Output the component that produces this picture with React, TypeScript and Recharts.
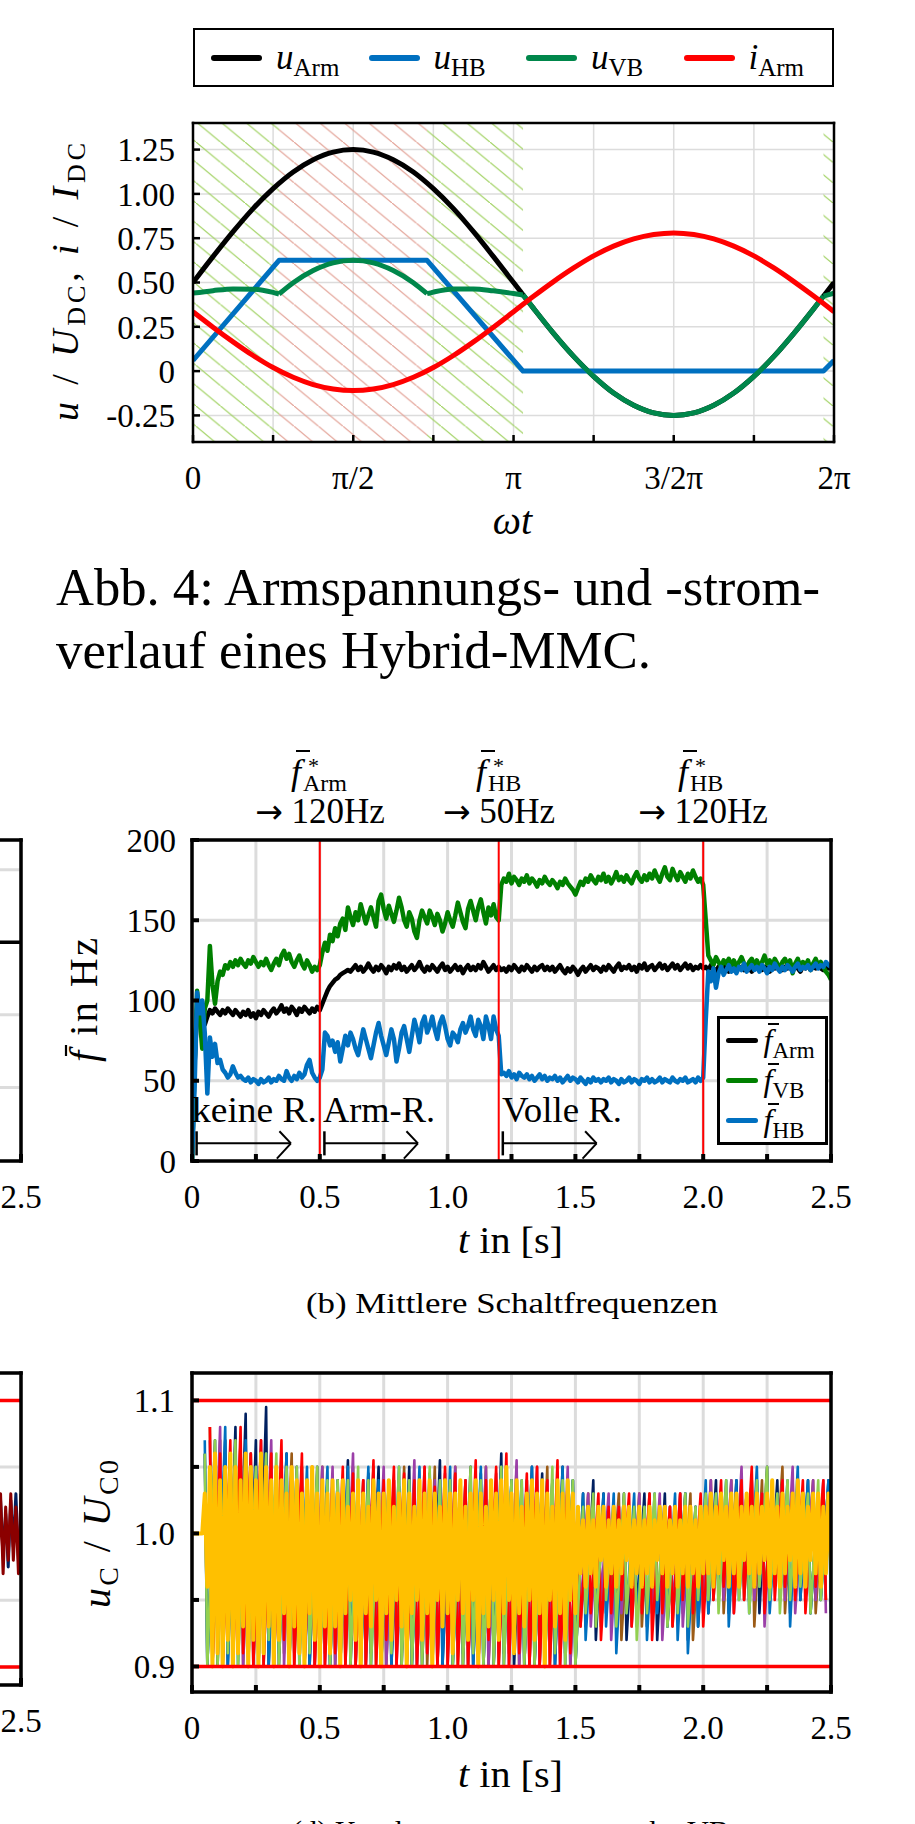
import React from 'react'
import { CartesianGrid, Legend, Line, LineChart, ReferenceArea, ReferenceLine, XAxis, YAxis } from 'recharts'

const FONT = '"Liberation Serif", "Times New Roman", serif'

// ---------- Abb. 4: arm voltages / current over one period ----------
const wt = [0, 0.196, 0.393, 0.589, 0.785, 0.982, 1.178, 1.374, 1.571, 1.767, 1.963, 2.16, 2.356, 2.553, 2.749, 2.945, 3.142,
  3.338, 3.534, 3.731, 3.927, 4.123, 4.32, 4.516, 4.712, 4.909, 5.105, 5.301, 5.498, 5.694, 5.89, 6.087, 6.283]
const uArm = [0.5, 0.646, 0.787, 0.917, 1.03, 1.124, 1.193, 1.236, 1.25, 1.236, 1.193, 1.124, 1.03, 0.917, 0.787, 0.646, 0.5,
  0.354, 0.213, 0.083, -0.03, -0.124, -0.193, -0.236, -0.25, -0.236, -0.193, -0.124, -0.03, 0.083, 0.213, 0.354, 0.5]
const iArm = [0.335, 0.248, 0.165, 0.088, 0.02, -0.035, -0.076, -0.101, -0.11, -0.101, -0.076, -0.035, 0.02, 0.088, 0.165, 0.248, 0.335,
  0.422, 0.505, 0.582, 0.65, 0.705, 0.746, 0.771, 0.78, 0.771, 0.746, 0.705, 0.65, 0.582, 0.505, 0.422, 0.335]
const hbWt = [0, 0.843, 2.294, 3.235, 6.18, 6.283]
const uHB = [0.06, 0.625, 0.625, 0, 0, 0.06]
const vbWt = [0, 0.196, 0.393, 0.589, 0.785, 0.843, 0.982, 1.178, 1.374, 1.571, 1.767, 1.963, 2.16, 2.294, 2.356, 2.553, 2.749,
  2.945, 3.142, 3.235, 3.338, 3.534, 3.731, 3.927, 4.123, 4.32, 4.516, 4.712, 4.909, 5.105, 5.301, 5.498, 5.694, 5.89, 6.087, 6.18, 6.283]
const uVB = [0.44, 0.454, 0.464, 0.462, 0.444, 0.435, 0.499, 0.568, 0.611, 0.625, 0.611, 0.568, 0.499, 0.437, 0.446, 0.464, 0.464,
  0.453, 0.438, 0.43, 0.354, 0.213, 0.083, -0.03, -0.124, -0.193, -0.236, -0.25, -0.236, -0.193, -0.124, -0.03, 0.083, 0.213, 0.354, 0.423, 0.44]
const vbKinks = [0, 5, 13, 19, 35, 36]
const greenZones = [[0, 0.843], [2.294, 3.235], [6.18, 6.283]]
const redZones = [[0.843, 2.294]]
const wtTicks = [0, 0.785, 1.571, 2.356, 3.142, 3.927, 4.712, 5.498, 6.283]
const wtLabels = ['0', '', 'π/2', '', 'π', '', '3/2π', '', '2π']
const uTicks = [-0.25, 0, 0.25, 0.5, 0.75, 1, 1.25]

// ---------- (b) mean switching frequencies, 10 ms steps ----------
const fArm = [
  0, 60, 95, 88, 92, 85, 90, 94, 92, 95, 93, 91, 94, 92, 95, 93, 91, 94, 92, 90,
  93, 91, 94, 90, 92, 89, 93, 91, 94, 92, 90, 93, 95, 92, 94, 97, 93, 95, 92, 96,
  94, 91, 95, 93, 96, 94, 92, 95, 93, 96, 94, 98, 102, 106, 109, 111, 113, 114, 116, 117,
  118, 119, 118, 120, 122, 119, 121, 118, 120, 123, 120, 118, 121, 119, 122, 120, 117, 121, 119, 122,
  120, 123, 119, 121, 118, 120, 122, 119, 121, 124, 120, 118, 121, 119, 122, 120, 118, 121, 123, 119,
  121, 118, 120, 122, 119, 121, 117, 120, 122, 119, 121, 119, 122, 120, 124, 121, 118, 120, 122, 119,
  121, 119, 120, 118, 121, 119, 122, 120, 118, 121, 119, 122, 120, 118, 121, 119, 121, 122, 119, 121,
  119, 121, 118, 120, 122, 119, 117, 120, 118, 121, 119, 116, 119, 121, 118, 120, 122, 119, 121, 120,
  118, 121, 119, 122, 120, 118, 121, 123, 119, 121, 120, 122, 119, 121, 118, 122, 120, 123, 119, 121,
  122, 119, 121, 123, 120, 122, 119, 121, 123, 120, 122, 119, 121, 123, 120, 122, 119, 121, 120, 122,
  120, 121, 119, 122, 120, 118, 121, 119, 122, 120, 118, 121, 119, 122, 120, 121, 119, 122, 120, 118,
  121, 120, 122, 119, 121, 120, 118, 121, 120, 122, 120, 119, 121, 120, 122, 119, 121, 120, 118, 121,
  120, 122, 119, 121, 120, 122, 120, 119, 121, 120, 121,
]
const fVB = [
  0, 60, 106, 90, 70, 95, 100, 134, 110, 98, 112, 118, 116, 122, 120, 124, 121, 125, 122, 126,
  123, 121, 125, 123, 127, 124, 121, 124, 122, 126, 122, 119, 123, 126, 122, 128, 131, 126, 129, 124,
  121, 125, 128, 123, 120, 125, 122, 118, 121, 119, 122, 130, 136, 131, 141, 137, 145, 140, 148, 151,
  144, 158, 152, 147, 155, 150, 160, 154, 148, 153, 158, 152, 146, 162, 166, 157, 151, 159, 154, 149,
  156, 164, 158, 150, 146, 155, 151, 143, 139, 150, 156, 152, 148, 156, 152, 147, 154, 150, 143, 148,
  155, 150, 146, 153, 161, 155, 149, 145, 157, 162, 156, 150, 158, 163, 155, 148, 158, 153, 160, 152,
  150, 172, 176, 174, 179, 173, 177, 175, 172, 176, 174, 178, 173, 176, 174, 171, 175, 173, 177, 174,
  172, 175, 173, 170, 174, 172, 176, 173, 171, 169, 166, 170, 174, 172, 176, 174, 178, 175, 173, 177,
  175, 179, 174, 177, 173, 176, 180, 175, 177, 174, 178, 175, 173, 177, 180, 176, 174, 178, 175, 179,
  176, 181, 177, 174, 179, 183, 177, 175, 182, 178, 175, 180, 177, 174, 179, 176, 181, 177, 174, 176,
  172, 150, 128, 125, 122, 127, 124, 121, 125, 123, 126, 122, 125, 121, 124, 127, 123, 120, 124, 126,
  122, 125, 121, 124, 128, 123, 125, 121, 126, 123, 120, 124, 126, 122, 125, 117, 123, 126, 121, 124,
  122, 125, 119, 123, 126, 122, 124, 121, 118, 116, 113,
]
const fHB = [
  0, 45, 105, 92, 100, 80, 42, 77, 65, 73, 61, 63, 57, 55, 52, 54, 59, 55, 52, 53,
  51, 50, 52, 49, 51, 50, 48, 51, 49, 50, 52, 49, 51, 50, 53, 51, 50, 56, 52, 50,
  53, 51, 55, 52, 54, 60, 63, 55, 52, 50, 52, 57, 80, 78, 72, 75, 68, 74, 62, 70,
  78, 72, 80, 76, 70, 66, 74, 82, 76, 70, 64, 72, 80, 86, 78, 72, 66, 74, 82, 76,
  62, 70, 80, 84, 76, 68, 78, 88, 82, 74, 86, 90, 80, 84, 90, 82, 76, 86, 90, 84,
  76, 72, 80, 78, 74, 82, 86, 80, 84, 90, 82, 78, 88, 84, 76, 90, 84, 76, 90, 82,
  78, 54, 55, 53, 56, 52, 54, 51, 55, 53, 52, 54, 51, 53, 50, 52, 54, 51, 53, 50,
  52, 51, 53, 50, 52, 49, 51, 53, 50, 52, 51, 49, 52, 50, 48, 51, 49, 52, 50, 51,
  49, 51, 50, 52, 49, 51, 50, 48, 51, 49, 50, 52, 49, 51, 50, 48, 51, 50, 52, 49,
  51, 49, 50, 52, 49, 51, 50, 49, 52, 50, 49, 51, 50, 52, 49, 50, 51, 49, 52, 50,
  52, 88, 118, 112, 120, 108, 117, 121, 116, 119, 122, 118, 120, 117, 121, 119, 123, 118, 120, 122,
  119, 121, 118, 122, 120, 117, 121, 119, 123, 120, 118, 121, 119, 122, 120, 118, 121, 123, 119, 121,
  120, 122, 119, 121, 123, 120, 122, 121, 124, 122, 121,
]
const stepTimes = [0.5, 1.2, 2.0]
const tTicks = [0, 0.25, 0.5, 0.75, 1, 1.25, 1.5, 1.75, 2, 2.25, 2.5]

// ---------- (d) capacitor voltages: peaks / troughs per cycle ----------
const ycHi = [
  1.03, 1.05, 1.06, 1.04, 1.05, 1.06, 1.05, 1.04, 1.06, 1.05, 1.04, 1.06, 1.05, 1.04, 1.05, 1.04, 1.03, 1.05, 1.04, 1.03, 1.04, 1.05, 1.03, 1.04, 1.03,
  1.04, 1.03, 1.04, 1.02, 1.03, 1.04, 1.03, 1.02, 1.04, 1.03, 1.03, 1.04, 1.02, 1.03, 1.04, 1.03, 1.02, 1.04, 1.03, 1.04, 1.03, 1.02, 1.04, 1.03,
  1.03, 1.04, 1.02, 1.03, 1.04, 1.03, 1.02, 1.04, 1.03, 1.04, 1.05, 1.03, 1.04, 1.02, 1.03, 1.04, 1.03, 1.04, 1.03, 1.02, 1.04, 1.03, 1.04, 1.03,
  1.02, 1.01, 1.02, 1.01, 1.02, 1.02, 1.01, 1.02, 1.01, 1.02, 1.02, 1.01, 1.02, 1.01, 1.02, 1.01, 1.02, 1.02, 1.01, 1.02, 1.01, 1.02, 1.02, 1.01, 1.02,
  1.02, 1.03, 1.02, 1.03, 1.02, 1.03, 1.03, 1.02, 1.03, 1.02, 1.03, 1.02, 1.03, 1.04, 1.02, 1.03, 1.02, 1.03, 1.04, 1.03, 1.02, 1.03, 1.03, 1.02, 1.03,
]
const ycLo = [
  0.96, 0.9, 0.91, 0.9, 0.92, 0.9, 0.91, 0.93, 0.9, 0.92, 0.9, 0.91, 0.93, 0.9, 0.92, 0.94, 0.9, 0.93, 0.91, 0.9, 0.94, 0.92, 0.9, 0.93, 0.91,
  0.93, 0.9, 0.94, 0.95, 0.92, 0.9, 0.94, 0.93, 0.95, 0.9, 0.94, 0.92, 0.95, 0.93, 0.9, 0.94, 0.95, 0.92, 0.94, 0.9, 0.95, 0.93, 0.94, 0.91,
  0.95, 0.94, 0.92, 0.95, 0.9, 0.94, 0.93, 0.95, 0.92, 0.94, 0.95, 0.91, 0.94, 0.93, 0.95, 0.92, 0.94, 0.9, 0.95, 0.93, 0.94, 0.92, 0.95, 0.94,
  0.97, 0.96, 0.97, 0.96, 0.98, 0.96, 0.97, 0.96, 0.97, 0.98, 0.96, 0.97, 0.96, 0.97, 0.96, 0.98, 0.97, 0.96, 0.97, 0.96, 0.97, 0.96, 0.97, 0.96, 0.97,
  0.97, 0.96, 0.97, 0.98, 0.96, 0.97, 0.96, 0.98, 0.97, 0.96, 0.97, 0.98, 0.96, 0.97, 0.96, 0.97, 0.98, 0.96, 0.97, 0.96, 0.98, 0.97, 0.96, 0.97, 0.98,
]
const lgHi = [1.06, 1.07, 1.05, 1.07, 1.06, 1.05, 1.06, 1.06, 1.05, 1.05, 1.04, 1.05, 1.04,
  1.04, 1.04, 1.05, 1.04, 1.03, 1.04, 1.05, 1.04, 1.04, 1.05, 1.04, 1.04, 1.03, 1.05, 1.04, 1.04, 1.05, 1.04, 1.04, 1.03, 1.04, 1.05, 1.04, 1.04,
  1.02, 1.03, 1.02, 1.02, 1.03, 1.02, 1.02, 1.03, 1.02, 1.02, 1.03, 1.02,
  1.03, 1.03, 1.04, 1.03, 1.03, 1.04, 1.05, 1.03, 1.04, 1.04, 1.03, 1.04, 1.03]
const lgLo = [0.9, 0.9, 0.91, 0.9, 0.9, 0.9, 0.92, 0.9, 0.9, 0.9, 0.91, 0.9, 0.9, 0.9, 0.9, 0.92, 0.9, 0.9, 0.91, 0.9,
  0.9, 0.9, 0.9, 0.93, 0.9, 0.9, 0.91, 0.9, 0.9, 0.9, 0.92, 0.9, 0.9, 0.9, 0.91, 0.9, 0.9,
  0.94, 0.93, 0.95, 0.93, 0.94, 0.92, 0.94, 0.95, 0.93, 0.94, 0.93, 0.95,
  0.95, 0.94, 0.96, 0.95, 0.94, 0.96, 0.95, 0.94, 0.95, 0.96, 0.94, 0.95, 0.96]
const rdHi = [1.08, 1.06, 1.07, 1.08, 1.06, 1.07, 1.06, 1.07, 1.05, 1.06, 1.05, 1.04,
  1.04, 1.05, 1.045, 1.04, 1.055, 1.04, 1.05, 1.045, 1.04, 1.05, 1.035, 1.05, 1.045, 1.04, 1.055, 1.04, 1.05, 1.06, 1.04, 1.045, 1.05, 1.04, 1.055, 1.04,
  1.02, 1.02, 1.03, 1.02, 1.02, 1.03, 1.02, 1.03, 1.02, 1.02, 1.03, 1.02, 1.03,
  1.03, 1.04, 1.03, 1.04, 1.05, 1.03, 1.04, 1.04, 1.03, 1.04, 1.03, 1.04]
const rdLo = [0.9, 0.9, 0.9, 0.91, 0.9, 0.9, 0.9, 0.92, 0.9, 0.9, 0.9, 0.9, 0.91, 0.9, 0.9, 0.9, 0.9, 0.92, 0.9, 0.9,
  0.9, 0.91, 0.9, 0.9, 0.9, 0.9, 0.9, 0.92, 0.9, 0.9, 0.91, 0.9, 0.9, 0.9, 0.9, 0.91,
  0.93, 0.94, 0.92, 0.94, 0.95, 0.93, 0.94, 0.92, 0.94, 0.93, 0.95, 0.94, 0.93,
  0.95, 0.96, 0.94, 0.95, 0.96, 0.94, 0.95, 0.96, 0.95, 0.94, 0.96, 0.95]
const blHi = [1.07, 1.06, 1.08, 1.06, 1.07, 1.05, 1.06, 1.05, 1.06, 1.04, 1.05, 1.04, 1.05,
  1.04, 1.05, 1.04, 1.05, 1.04, 1.04, 1.05, 1.04, 1.05, 1.04, 1.04, 1.05, 1.04, 1.04, 1.05, 1.04, 1.05, 1.04, 1.04, 1.05, 1.04, 1.04, 1.05, 1.04,
  1.03, 1.02, 1.03, 1.03, 1.02, 1.03, 1.02, 1.03, 1.02, 1.03, 1.03, 1.02,
  1.04, 1.03, 1.04, 1.04, 1.03, 1.05, 1.04, 1.03, 1.04, 1.05, 1.04, 1.03, 1.04]
const blLo = [0.9, 0.91, 0.9, 0.9, 0.92, 0.9, 0.9, 0.91, 0.9, 0.9, 0.9, 0.92, 0.9, 0.9, 0.91, 0.9, 0.9, 0.9, 0.9, 0.91,
  0.9, 0.92, 0.9, 0.9, 0.9, 0.91, 0.9, 0.9, 0.9, 0.9, 0.92, 0.9, 0.9, 0.91, 0.9, 0.9, 0.9,
  0.92, 0.94, 0.93, 0.91, 0.94, 0.93, 0.92, 0.94, 0.93, 0.92, 0.91, 0.93,
  0.94, 0.95, 0.93, 0.95, 0.94, 0.96, 0.94, 0.95, 0.93, 0.95, 0.94, 0.95, 0.94]
const puHi = [1.07, 1.08, 1.06, 1.07, 1.06, 1.07, 1.07, 1.06, 1.05, 1.05, 1.04, 1.05,
  1.05, 1.04, 1.06, 1.04, 1.045, 1.05, 1.04, 1.035, 1.055, 1.05, 1.04, 1.045, 1.05, 1.04, 1.035, 1.05, 1.045, 1.04, 1.055, 1.04, 1.05, 1.04, 1.045, 1.05,
  1.02, 1.03, 1.02, 1.03, 1.02, 1.02, 1.03, 1.02, 1.03, 1.02, 1.03, 1.02, 1.02,
  1.04, 1.03, 1.04, 1.05, 1.04, 1.03, 1.04, 1.04, 1.05, 1.03, 1.04, 1.04]
const puLo = [0.9, 0.91, 0.9, 0.9, 0.9, 0.92, 0.9, 0.9, 0.91, 0.9, 0.9, 0.9, 0.9, 0.91, 0.9, 0.9, 0.92, 0.9, 0.9, 0.9,
  0.9, 0.91, 0.9, 0.9, 0.92, 0.9, 0.9, 0.9, 0.91, 0.9, 0.9, 0.9, 0.9, 0.92, 0.9, 0.9,
  0.94, 0.93, 0.95, 0.92, 0.94, 0.93, 0.95, 0.94, 0.92, 0.94, 0.93, 0.95, 0.94,
  0.96, 0.95, 0.94, 0.96, 0.95, 0.93, 0.96, 0.95, 0.94, 0.96, 0.95, 0.94]
const nvHi = [1.06, 1.07, 1.07, 1.08, 1.09, 1.07, 1.095, 1.05, 1.06, 1.05, 1.04, 1.05, 1.04,
  1.04, 1.055, 1.04, 1.045, 1.05, 1.04, 1.035, 1.05, 1.04, 1.045, 1.055, 1.04, 1.04, 1.05, 1.045, 1.04, 1.06, 1.04, 1.035, 1.05, 1.045, 1.04, 1.05, 1.04,
  1.03, 1.04, 1.03, 1.02, 1.03, 1.02, 1.03, 1.02, 1.03, 1.02, 1.03, 1.02,
  1.03, 1.04, 1.03, 1.04, 1.03, 1.04, 1.05, 1.04, 1.03, 1.04, 1.04, 1.03, 1.04]
const nvLo = [0.9, 0.9, 0.9, 0.91, 0.9, 0.9, 0.9, 0.9, 0.9, 0.91, 0.9, 0.9, 0.9, 0.9, 0.9, 0.9, 0.91, 0.9, 0.9, 0.9,
  0.9, 0.9, 0.91, 0.9, 0.9, 0.9, 0.9, 0.9, 0.9, 0.91, 0.9, 0.9, 0.9, 0.9, 0.9, 0.91, 0.9,
  0.93, 0.92, 0.94, 0.93, 0.92, 0.94, 0.93, 0.92, 0.93, 0.94, 0.92, 0.93,
  0.94, 0.95, 0.94, 0.96, 0.95, 0.94, 0.95, 0.96, 0.94, 0.95, 0.94, 0.95, 0.96]
const brHi = [1.08, 1.07, 1.06, 1.07, 1.06, 1.06, 1.06, 1.05, 1.06, 1.05, 1.04, 1.05,
  1.04, 1.04, 1.05, 1.04, 1.05, 1.04, 1.04, 1.05, 1.04, 1.04, 1.05, 1.04, 1.05, 1.04, 1.04, 1.05, 1.04, 1.04, 1.05, 1.04, 1.04, 1.05, 1.04, 1.04,
  1.02, 1.03, 1.02, 1.02, 1.03, 1.02, 1.03, 1.03, 1.02, 1.02, 1.03, 1.03, 1.02,
  1.04, 1.03, 1.04, 1.03, 1.04, 1.04, 1.03, 1.05, 1.04, 1.03, 1.04, 1.03]
const brLo = [0.9, 0.9, 0.91, 0.9, 0.9, 0.9, 0.9, 0.91, 0.9, 0.9, 0.9, 0.91, 0.9, 0.9, 0.9, 0.9, 0.9, 0.9, 0.91, 0.9,
  0.9, 0.9, 0.9, 0.91, 0.9, 0.9, 0.9, 0.9, 0.9, 0.91, 0.9, 0.9, 0.9, 0.9, 0.91, 0.9,
  0.93, 0.94, 0.93, 0.95, 0.92, 0.94, 0.93, 0.94, 0.95, 0.93, 0.94, 0.92, 0.94,
  0.95, 0.94, 0.96, 0.95, 0.93, 0.95, 0.96, 0.94, 0.95, 0.96, 0.94, 0.95]

// neighbouring panels, only their right edge is on the page
const panelAT = [2.3, 2.5]
const panelAY = [2, 2]
const panelCT = [2.4, 2.41, 2.42, 2.43, 2.44, 2.45, 2.46, 2.47, 2.48, 2.49, 2.5]
const panelCMaroon = [1.02, 0.98, 1.03, 0.97, 1.02, 0.98, 1.03, 0.98, 1.02, 0.97, 1.03]
const panelCNavy = [1.01, 0.99, 1.025, 0.985, 1.015, 0.975, 1.025, 0.99, 1.03, 0.98, 1.0]

const pts = (xs: number[], ys: number[]) => xs.map((x, i) => ({ x, y: ys[i] }))

function zigzag(t0: number, period: number, hi: number[], lo: number[]) {
  const out: { x: number; y: number }[] = []
  hi.forEach((h, i) => {
    const t = t0 + i * period
    out.push({ x: +t.toFixed(3), y: h })
    out.push({ x: +(t + 0.01).toFixed(3), y: lo[i] })
  })
  return out
}

const C_ARM = '#000000'
const C_HB = '#0070c0'
const C_VB = '#00874b'
const C_I = '#ff0000'

const legend1 = [
  { sym: 'u', sub: 'Arm', color: C_ARM },
  { sym: 'u', sub: 'HB', color: C_HB },
  { sym: 'u', sub: 'VB', color: C_VB },
  { sym: 'i', sub: 'Arm', color: C_I },
]
const legend2 = [
  { sub: 'Arm', color: '#000000' },
  { sub: 'VB', color: '#008000' },
  { sub: 'HB', color: '#0070c0' },
]

const capSeries = [
  { key: 'nv', color: '#002060', t0: 0.05, hi: nvHi, lo: nvLo },
  { key: 'br', color: '#9c5b16', t0: 0.07, hi: brHi, lo: brLo },
  { key: 'pu', color: '#9b3fa8', t0: 0.07, hi: puHi, lo: puLo },
  { key: 'bl', color: '#0070c0', t0: 0.05, hi: blHi, lo: blLo },
  { key: 'rd', color: '#ff0000', t0: 0.07, hi: rdHi, lo: rdLo },
  { key: 'lg', color: '#92d050', t0: 0.05, hi: lgHi, lo: lgLo },
]

const tFmt = (v: number) => {
  const r = Math.round(v * 100)
  if (r % 50 !== 0) return ''
  return r === 0 ? '0' : v.toFixed(1)
}

type FrameOpts = {
  xDomain: number[]
  xTicks: number[]
  xFmt: (v: number) => string
  yDomain: number[]
  yTicks: number[]
  yFmt: (v: number) => string
  lw: number
  tw: number
  yGap: number
}

function frame(o: FrameOpts) {
  const axisLine = { stroke: '#000', strokeWidth: o.lw, strokeLinecap: 'square' }
  const tickLine = { stroke: '#000', strokeWidth: o.tw }
  const tick = { fill: '#000', fontSize: 33, fontFamily: FONT }
  return [
    <XAxis key="xb" type="number" dataKey="x" domain={o.xDomain} ticks={o.xTicks} tickFormatter={o.xFmt} interval={0}
      allowDataOverflow height={1} tickSize={-7} tickMargin={31} axisLine={axisLine} tickLine={tickLine} tick={tick} />,
    <XAxis key="xt" xAxisId="top" orientation="top" type="number" dataKey="x" domain={o.xDomain} ticks={o.xTicks} interval={0}
      allowDataOverflow height={1} tickSize={-7} axisLine={axisLine} tickLine={tickLine} tick={false} />,
    <YAxis key="yl" type="number" domain={o.yDomain} ticks={o.yTicks} tickFormatter={o.yFmt} interval={0}
      allowDataOverflow width={1} tickSize={-7} tickMargin={o.yGap} axisLine={axisLine} tickLine={tickLine} tick={tick} />,
    <YAxis key="yr" yAxisId="right" orientation="right" type="number" domain={o.yDomain} ticks={o.yTicks} interval={0}
      allowDataOverflow width={1} tickSize={-7} axisLine={axisLine} tickLine={tickLine} tick={false} />,
  ]
}

function TopLegend() {
  return (
    <div style={{ width: 641, height: 59, border: '2px solid #000', boxSizing: 'border-box', position: 'relative', background: '#fff', fontFamily: FONT }}>
      {legend1.map((s, i) => (
        <div key={i} style={{ position: 'absolute', left: 16 + i * 157.5, top: 0, height: 55, display: 'flex', alignItems: 'center' }}>
          <div style={{ width: 51, height: 6, background: s.color, borderRadius: 3 }} />
          <span style={{ marginLeft: 14, fontSize: 35, lineHeight: 1, whiteSpace: 'nowrap', color: '#000' }}>
            <i>{s.sym}</i>
            <span style={{ fontSize: 25, position: 'relative', top: 7 }}>{s.sub}</span>
          </span>
        </div>
      ))}
    </div>
  )
}

function FreqLegend() {
  return (
    <div style={{ width: 111, height: 129, border: '3px solid #000', boxSizing: 'border-box', position: 'relative', background: '#fff', fontFamily: FONT }}>
      {legend2.map((s, i) => (
        <div key={s.sub} style={{ position: 'absolute', left: 6, top: 3 + i * 40, height: 36, display: 'flex', alignItems: 'center' }}>
          <div style={{ width: 32, height: 5, background: s.color, borderRadius: 2.5 }} />
          <span style={{ marginLeft: 6, fontSize: 32, lineHeight: 1, whiteSpace: 'nowrap', color: '#000' }}>
            <i style={{ position: 'relative' }}>
              f
              <span style={{ position: 'absolute', left: 4, top: 1, width: 11, height: 2, background: '#000' }} />
            </i>
            <span style={{ fontSize: 23, position: 'relative', top: 7 }}>{s.sub}</span>
          </span>
        </div>
      ))}
    </div>
  )
}

function FStar({ x, sub }: { x: number; sub: string }) {
  return (
    <g>
      <line x1={x + 5} x2={x + 19} y1={751} y2={751} stroke="#000" strokeWidth={2} />
      <text x={x} y={784} fontSize={36} fontStyle="italic">f</text>
      <text x={x + 17} y={773} fontSize={22}>*</text>
      <text x={x + 12} y={791} fontSize={24}>{sub}</text>
    </g>
  )
}

function StepNote({ x, text }: { x: number; text: string }) {
  return (
    <text x={x} y={823} textAnchor="middle" fontSize={35}>
      <tspan fontFamily='"DejaVu Sans", sans-serif' fontSize={33}>→</tspan>
      <tspan>{'\u00a0' + text}</tspan>
    </text>
  )
}

export default function App() {
  const frame1 = frame({
    xDomain: [0, 6.283], xTicks: wtTicks, xFmt: (v) => wtLabels[wtTicks.indexOf(v)] ?? '',
    yDomain: [-0.4, 1.4], yTicks: uTicks, yFmt: (v) => (v === 0 ? '0' : v.toFixed(2)), lw: 2.5, tw: 2.5, yGap: 25,
  })
  const frame2 = frame({
    xDomain: [0, 2.5], xTicks: tTicks, xFmt: tFmt, yDomain: [0, 200], yTicks: [0, 50, 100, 150, 200],
    yFmt: (v) => String(v), lw: 3.5, tw: 4, yGap: 23,
  })
  const frame3 = frame({
    xDomain: [0, 2.5], xTicks: tTicks, xFmt: tFmt, yDomain: [0.8808, 1.1206], yTicks: [0.9, 0.95, 1, 1.05, 1.1],
    yFmt: (v) => ([0.9, 1, 1.1].includes(v) ? v.toFixed(1) : ''), lw: 3.5, tw: 4, yGap: 24,
  })
  const frameA = frame({
    xDomain: [0, 2.5], xTicks: tTicks, xFmt: tFmt, yDomain: [-1.015, 3.411], yTicks: [0, 1, 2, 3],
    yFmt: (v) => String(v), lw: 3.5, tw: 4, yGap: 23,
  })
  const frameC = frame({
    xDomain: [0, 2.5], xTicks: tTicks, xFmt: tFmt, yDomain: [0.8864, 1.1206], yTicks: [0.9, 0.95, 1, 1.05, 1.1],
    yFmt: (v) => ([0.9, 1, 1.1].includes(v) ? v.toFixed(1) : ''), lw: 3.5, tw: 4, yGap: 24,
  })

  const vbPts = pts(vbWt, uVB)
  const yellow = [{ x: 0, y: 1 }, { x: 0.04, y: 1 }, ...zigzag(0.05, 0.02, ycHi, ycLo)]
  const arrows = [
    [0.018, 0.387],
    [0.518, 0.884],
    [1.216, 1.583],
  ]
  const lineBase = { dot: false, activeDot: false, isAnimationActive: false, strokeLinejoin: 'round' as const }

  return (
    <div style={{ position: 'absolute', left: 0, top: 0, width: 915, height: 1824, overflow: 'hidden', background: '#fff', fontFamily: FONT }}>
      <svg width={0} height={0} style={{ position: 'absolute' }}>
        <defs>
          <pattern id="hatchGreen" patternUnits="userSpaceOnUse" width={24.5} height={20.3}>
            <line x1={0} y1={0} x2={24.5} y2={20.3} stroke="#9fd160" strokeWidth={1.2} />
          </pattern>
          <pattern id="hatchRed" patternUnits="userSpaceOnUse" width={24.5} height={20.3}>
            <line x1={0} y1={0} x2={24.5} y2={20.3} stroke="#e2a094" strokeWidth={1.2} />
          </pattern>
        </defs>
      </svg>

      {/* Abb. 4 */}
      <div style={{ position: 'absolute', left: 0, top: 0 }}>
        <LineChart width={915} height={560} margin={{ top: 122, right: 80, bottom: 117, left: 192 }}>
          <CartesianGrid stroke="#dcdcdc" strokeWidth={1.5} />
          {greenZones.map(([a, b], i) => (
            <ReferenceArea key={'g' + i} x1={a} x2={b} fill="url(#hatchGreen)" fillOpacity={1} stroke="none" />
          ))}
          {redZones.map(([a, b], i) => (
            <ReferenceArea key={'r' + i} x1={a} x2={b} fill="url(#hatchRed)" fillOpacity={1} stroke="none" />
          ))}
          {frame1}
          <Line {...lineBase} data={pts(wt, uArm)} dataKey="y" type="monotone" stroke={C_ARM} strokeWidth={5} />
          <Line {...lineBase} data={pts(hbWt, uHB)} dataKey="y" type="linear" stroke={C_HB} strokeWidth={5} />
          {vbKinks.slice(0, -1).map((k, i) => (
            <Line key={'vb' + i} {...lineBase} data={vbPts.slice(k, vbKinks[i + 1] + 1)} dataKey="y" type="monotone" stroke={C_VB} strokeWidth={5} />
          ))}
          <Line {...lineBase} data={pts(wt, iArm)} dataKey="y" type="monotone" stroke={C_I} strokeWidth={5} />
          <Legend content={() => <TopLegend />} layout="horizontal" verticalAlign="middle" align="center"
            wrapperStyle={{ left: 193, top: 28, width: 641, height: 59 }} />
        </LineChart>
      </div>

      {/* (a) right edge */}
      <div style={{ position: 'absolute', left: -810, top: 720 }}>
        <LineChart width={915} height={580} margin={{ top: 119, right: 83, bottom: 138, left: 191 }}>
          <CartesianGrid stroke="#dcdcdc" strokeWidth={3} />
          {frameA}
          <Line {...lineBase} data={pts(panelAT, panelAY)} dataKey="y" stroke="#000" strokeWidth={3.5} />
        </LineChart>
      </div>

      {/* (b) */}
      <div style={{ position: 'absolute', left: 0, top: 720 }}>
        <LineChart width={915} height={580} margin={{ top: 119, right: 83, bottom: 138, left: 191 }}>
          <CartesianGrid stroke="#dcdcdc" strokeWidth={3} />
          {frame2}
          <Line {...lineBase} data={fArm.map((y, i) => ({ x: i / 100, y }))} dataKey="y" type="linear" stroke="#000000" strokeWidth={4.5} />
          <Line {...lineBase} data={fVB.map((y, i) => ({ x: i / 100, y }))} dataKey="y" type="linear" stroke="#008000" strokeWidth={4.5} />
          <Line {...lineBase} data={fHB.map((y, i) => ({ x: i / 100, y }))} dataKey="y" type="linear" stroke="#0070c0" strokeWidth={4.5} />
          {stepTimes.map((t) => (
            <ReferenceLine key={'s' + t} x={t} stroke="#ff0000" strokeWidth={2} />
          ))}
          {arrows.map(([a, b], i) => [
            <ReferenceLine key={'a' + i} segment={[{ x: a, y: 11 }, { x: b, y: 11 }]} stroke="#000" strokeWidth={2} />,
            <ReferenceLine key={'b' + i} segment={[{ x: a, y: 3.5 }, { x: a, y: 18.5 }]} stroke="#000" strokeWidth={2.5} />,
            <ReferenceLine key={'h' + i} segment={[{ x: b - 0.045, y: 18.5 }, { x: b, y: 11 }]} stroke="#000" strokeWidth={2} />,
            <ReferenceLine key={'k' + i} segment={[{ x: b, y: 11 }, { x: b - 0.055, y: 1.5 }]} stroke="#000" strokeWidth={2} />,
          ])}
          <Legend content={() => <FreqLegend />} layout="horizontal" verticalAlign="middle" align="center"
            wrapperStyle={{ left: 716.5, top: 296, width: 111, height: 129 }} />
        </LineChart>
      </div>

      {/* (c) right edge */}
      <div style={{ position: 'absolute', left: -810, top: 1300 }}>
        <LineChart width={915} height={524} margin={{ top: 72, right: 83, bottom: 138, left: 191 }}>
          <CartesianGrid stroke="#dcdcdc" strokeWidth={3} />
          {frameC}
          <Line {...lineBase} data={pts(panelCT, panelCNavy)} dataKey="y" stroke="#002060" strokeWidth={3} />
          <Line {...lineBase} data={pts(panelCT, panelCMaroon)} dataKey="y" stroke="#8b0000" strokeWidth={3} />
          <ReferenceLine y={0.9} stroke="#ff0000" strokeWidth={3.5} />
          <ReferenceLine y={1.1} stroke="#ff0000" strokeWidth={3.5} />
        </LineChart>
      </div>

      {/* (d) */}
      <div style={{ position: 'absolute', left: 0, top: 1300 }}>
        <LineChart width={915} height={524} margin={{ top: 72, right: 83, bottom: 131, left: 191 }}>
          <CartesianGrid stroke="#dcdcdc" strokeWidth={3} />
          {frame3}
          {capSeries.map((s) => (
            <Line key={s.key} {...lineBase} data={zigzag(s.t0, 0.04, s.hi, s.lo)} dataKey="y" type="linear" stroke={s.color} strokeWidth={2.6} />
          ))}
          <Line {...lineBase} data={yellow} dataKey="y" type="linear" stroke="#ffc000" strokeWidth={4} />
          <ReferenceLine y={0.9} stroke="#ff0000" strokeWidth={3.5} />
          <ReferenceLine y={1.1} stroke="#ff0000" strokeWidth={3.5} />
        </LineChart>
      </div>

      {/* titles, captions, annotations */}
      <svg width={915} height={1824} style={{ position: 'absolute', left: 0, top: 0, pointerEvents: 'none' }} fontFamily={FONT} fill="#000">
        <text transform="translate(78 282) rotate(-90)" textAnchor="middle" fontSize={38} textLength={278} lengthAdjust="spacing">
          <tspan fontStyle="italic">u</tspan>
          <tspan>{'\u00a0/\u00a0'}</tspan>
          <tspan fontStyle="italic">U</tspan>
          <tspan fontSize={26} dy={7}>DC</tspan>
          <tspan dy={-7}>{',\u00a0'}</tspan>
          <tspan fontStyle="italic">i</tspan>
          <tspan>{'\u00a0/\u00a0'}</tspan>
          <tspan fontStyle="italic">I</tspan>
          <tspan fontSize={26} dy={7}>DC</tspan>
        </text>
        <text x={512.5} y={534} textAnchor="middle" fontSize={40} fontStyle="italic">ωt</text>

        <text x={56} y={605} fontSize={52.5} textLength={764} lengthAdjust="spacingAndGlyphs">Abb. 4: Armspannungs- und -strom-</text>
        <text x={56} y={668} fontSize={52.5} textLength={595} lengthAdjust="spacingAndGlyphs">verlauf eines Hybrid-MMC.</text>

        <FStar x={291} sub="Arm" />
        <FStar x={476} sub="HB" />
        <FStar x={678} sub="HB" />
        <StepNote x={320} text="120Hz" />
        <StepNote x={499} text="50Hz" />
        <StepNote x={703} text="120Hz" />

        <g transform="translate(97 1000) rotate(-90)">
          <text x={0} y={0} textAnchor="middle" fontSize={40} textLength={124} lengthAdjust="spacing">
            <tspan fontStyle="italic">f</tspan>
            <tspan>{'\u00a0in Hz'}</tspan>
          </text>
          <line x1={-56} x2={-45} y1={-31} y2={-31} stroke="#000" strokeWidth={2.2} />
        </g>
        <text x={192} y={1121.5} fontSize={35} textLength={125} lengthAdjust="spacingAndGlyphs">keine R.</text>
        <text x={323} y={1121.5} fontSize={35} textLength={112} lengthAdjust="spacingAndGlyphs">Arm-R.</text>
        <text x={502} y={1121.5} fontSize={35} textLength={120} lengthAdjust="spacingAndGlyphs">Volle R.</text>
        <text x={510.5} y={1253} textAnchor="middle" fontSize={37} textLength={105} lengthAdjust="spacingAndGlyphs">
          <tspan fontStyle="italic">t</tspan>
          <tspan>{'\u00a0in [s]'}</tspan>
        </text>
        <text x={512} y={1313} textAnchor="middle" fontSize={30} textLength={412} lengthAdjust="spacingAndGlyphs">(b) Mittlere Schaltfrequenzen</text>

        <text transform="translate(110 1534) rotate(-90)" textAnchor="middle" fontSize={40} textLength={148} lengthAdjust="spacing">
          <tspan fontStyle="italic">u</tspan>
          <tspan fontSize={28} dy={8}>C</tspan>
          <tspan dy={-8}>{'\u00a0/\u00a0'}</tspan>
          <tspan fontStyle="italic">U</tspan>
          <tspan fontSize={28} dy={8}>C0</tspan>
        </text>
        <text x={510.5} y={1787} textAnchor="middle" fontSize={37} textLength={105} lengthAdjust="spacingAndGlyphs">
          <tspan fontStyle="italic">t</tspan>
          <tspan>{'\u00a0in [s]'}</tspan>
        </text>
        <text x={510.5} y={1841} textAnchor="middle" fontSize={30} textLength={437} lengthAdjust="spacingAndGlyphs">(d) Kondensatorspannungen der VB</text>
      </svg>
    </div>
  )
}
